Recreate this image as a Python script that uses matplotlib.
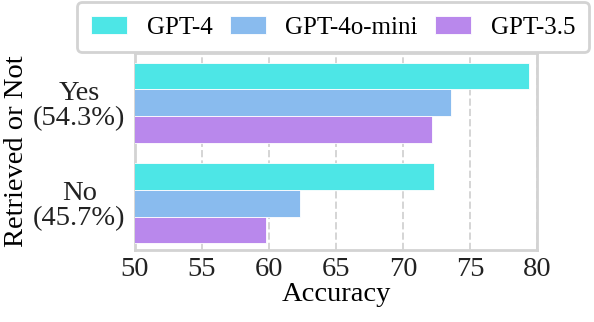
import matplotlib.pyplot as plt
import numpy as np

plt.rcParams['font.family'] = ['Liberation Serif', 'DejaVu Serif']

groups = ['Yes\n(54.3%)', 'No\n(45.7%)']
models = ['GPT-4', 'GPT-4o-mini', 'GPT-3.5']
gpt4 = [79.4, 72.3]
gpt4o_mini = [73.6, 62.3]
gpt35 = [72.2, 59.8]
colors = ['#4de6e6', '#89bbee', '#b988ec']

fs = 20.5
fig = plt.figure(figsize=(5.94, 3.22), dpi=100)
ax = fig.add_axes([0.227, 0.224, 0.677, 0.611])

y = np.arange(len(groups))
h = 0.8 / 3
for i, (vals, c, name) in enumerate(zip([gpt4, gpt4o_mini, gpt35], colors, models)):
    ax.barh(y + (i - 1) * h, vals, height=h, color=c, label=name,
            edgecolor='white', linewidth=0.6, zorder=3)

ax.set_xlim(50, 80)
ax.set_ylim(1.465, -0.495)
ax.set_xticks(np.arange(50, 81, 5))
ax.set_yticks(y)
ax.set_yticklabels(groups, fontsize=fs, linespacing=1.0, ha='center')
ax.tick_params(axis='x', labelsize=fs, length=0, pad=5)
ax.tick_params(axis='y', length=0, pad=40)
ax.set_xlabel('Accuracy', fontsize=fs, labelpad=0)
ax.set_ylabel('Retrieved or Not', fontsize=fs, labelpad=3)
ax.grid(axis='x', linestyle='--', color='#d5d5d5', linewidth=1.4, zorder=0)
for s in ax.spines.values():
    s.set_color('#d3d3d3')
    s.set_linewidth(2)
for t in ax.get_xticklabels() + ax.get_yticklabels():
    t.set_color('#222222')

leg = fig.legend(loc='upper center', bbox_to_anchor=(0.561, 0.993), ncol=3,
                 fontsize=18, handlelength=1.44, handletextpad=0.78,
                 columnspacing=0.7, borderpad=0.55, borderaxespad=0,
                 fancybox=True, framealpha=1)
leg.get_frame().set_edgecolor('#d3d3d3')
leg.get_frame().set_linewidth(2)

fig.savefig('out.png', dpi=100)
